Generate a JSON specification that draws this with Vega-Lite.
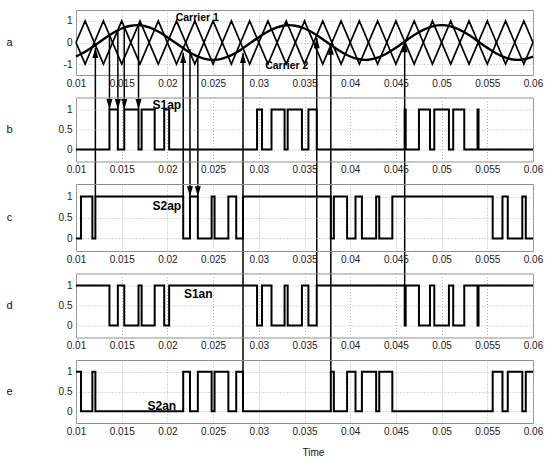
{
  "$schema": "https://vega.github.io/schema/vega-lite/v6.json",
  "padding": {"left": 5, "top": 9, "right": 2, "bottom": 2},
  "background": "white",
  "bounds": "flush",
  "spacing": 22.5,
  "config": {
    "view": {"stroke": "#8f8f8f", "strokeWidth": 1},
    "axis": {"grid": true, "gridColor": "#b5b5b5", "gridDash": [1, 2], "domain": false, "ticks": false, "labelFont": "Liberation Sans", "labelFontSize": 10, "labelColor": "#222", "titleFont": "Liberation Sans", "titleFontWeight": "normal", "titleColor": "#111", "labelPadding": 4},
    "axisX": {"labelFlush": false, "labelOverlap": false, "labelPadding": 3},
    "axisY": {"titleAngle": 0, "titleX": -67, "titleAlign": "center", "titleBaseline": "middle", "titleFontSize": 11, "labelOverlap": false},
    "text": {"font": "Liberation Sans", "fontWeight": "bold", "color": "black", "align": "left", "baseline": "middle"}
  },
  "datasets": {
    "sine": [
      {"t":0.010,"v":-0.647},{"t":0.011,"v":-0.429},{"t":0.012,"v":-0.150},{"t":0.013,"v":0.150},{"t":0.014,"v":0.429},{"t":0.015,"v":0.647},{"t":0.016,"v":0.775},{"t":0.017,"v":0.794},{"t":0.018,"v":0.701},{"t":0.019,"v":0.510},{"t":0.020,"v":0.247},{"t":0.021,"v":-0.050},{"t":0.022,"v":-0.341},{"t":0.023,"v":-0.583},{"t":0.024,"v":-0.744},{"t":0.025,"v":-0.800},{"t":0.026,"v":-0.744},{"t":0.027,"v":-0.583},{"t":0.028,"v":-0.341},{"t":0.029,"v":-0.050},{"t":0.030,"v":0.247},{"t":0.031,"v":0.510},{"t":0.032,"v":0.701},{"t":0.033,"v":0.794},{"t":0.034,"v":0.775},{"t":0.035,"v":0.647},{"t":0.036,"v":0.429},{"t":0.037,"v":0.150},{"t":0.038,"v":-0.150},{"t":0.039,"v":-0.429},{"t":0.040,"v":-0.647},{"t":0.041,"v":-0.775},{"t":0.042,"v":-0.794},{"t":0.043,"v":-0.701},{"t":0.044,"v":-0.510},{"t":0.045,"v":-0.247},{"t":0.046,"v":0.050},{"t":0.047,"v":0.341},{"t":0.048,"v":0.583},{"t":0.049,"v":0.744},{"t":0.050,"v":0.800},{"t":0.051,"v":0.744},{"t":0.052,"v":0.583},{"t":0.053,"v":0.341},{"t":0.054,"v":0.050},{"t":0.055,"v":-0.247},{"t":0.056,"v":-0.510},{"t":0.057,"v":-0.701},{"t":0.058,"v":-0.794},{"t":0.059,"v":-0.775},{"t":0.060,"v":-0.647}
    ],
    "carriers": [
      {"k":"1","t":0.010,"v":0},{"k":"1","t":0.011,"v":1},{"k":"1","t":0.013,"v":-1},{"k":"1","t":0.015,"v":1},{"k":"1","t":0.017,"v":-1},{"k":"1","t":0.019,"v":1},{"k":"1","t":0.021,"v":-1},{"k":"1","t":0.023,"v":1},{"k":"1","t":0.025,"v":-1},{"k":"1","t":0.027,"v":1},{"k":"1","t":0.029,"v":-1},{"k":"1","t":0.031,"v":1},{"k":"1","t":0.033,"v":-1},{"k":"1","t":0.035,"v":1},{"k":"1","t":0.037,"v":-1},{"k":"1","t":0.039,"v":1},{"k":"1","t":0.041,"v":-1},{"k":"1","t":0.043,"v":1},{"k":"1","t":0.045,"v":-1},{"k":"1","t":0.047,"v":1},{"k":"1","t":0.049,"v":-1},{"k":"1","t":0.051,"v":1},{"k":"1","t":0.053,"v":-1},{"k":"1","t":0.055,"v":1},{"k":"1","t":0.057,"v":-1},{"k":"1","t":0.059,"v":1},{"k":"1","t":0.060,"v":0},
      {"k":"2","t":0.010,"v":0},{"k":"2","t":0.011,"v":-1},{"k":"2","t":0.013,"v":1},{"k":"2","t":0.015,"v":-1},{"k":"2","t":0.017,"v":1},{"k":"2","t":0.019,"v":-1},{"k":"2","t":0.021,"v":1},{"k":"2","t":0.023,"v":-1},{"k":"2","t":0.025,"v":1},{"k":"2","t":0.027,"v":-1},{"k":"2","t":0.029,"v":1},{"k":"2","t":0.031,"v":-1},{"k":"2","t":0.033,"v":1},{"k":"2","t":0.035,"v":-1},{"k":"2","t":0.037,"v":1},{"k":"2","t":0.039,"v":-1},{"k":"2","t":0.041,"v":1},{"k":"2","t":0.043,"v":-1},{"k":"2","t":0.045,"v":1},{"k":"2","t":0.047,"v":-1},{"k":"2","t":0.049,"v":1},{"k":"2","t":0.051,"v":-1},{"k":"2","t":0.053,"v":1},{"k":"2","t":0.055,"v":-1},{"k":"2","t":0.057,"v":1},{"k":"2","t":0.059,"v":-1},{"k":"2","t":0.060,"v":0}
    ],
    "arrows": [
      {"t":0.01212,"v":-0.24,"v2":-7.111,"dir":"up"},
      {"t":0.02173,"v":-0.47,"v2":-7.111,"dir":"up"},
      {"t":0.02827,"v":-0.47,"v2":-15.199,"dir":"up"},
      {"t":0.03634,"v":0.22,"v2":-11.215,"dir":"up"},
      {"t":0.03788,"v":-0.08,"v2":-15.199,"dir":"up"},
      {"t":0.04596,"v":0.03,"v2":-11.215,"dir":"up"},
      {"t":0.01366,"v":0.3,"v2":-3.092,"dir":"down"},
      {"t":0.01458,"v":0.6,"v2":-3.092,"dir":"down"},
      {"t":0.01528,"v":0.72,"v2":-3.092,"dir":"down"},
      {"t":0.01684,"v":0.85,"v2":-3.092,"dir":"down"},
      {"t":0.02247,"v":-0.3,"v2":-7.111,"dir":"down"},
      {"t":0.02333,"v":-0.63,"v2":-7.111,"dir":"down"}
    ],
    "s1ap": [
      {"t":0.010,"v":0},{"t":0.01366,"v":1},{"t":0.01458,"v":0},{"t":0.01528,"v":1},{"t":0.01684,"v":0},{"t":0.01718,"v":1},{"t":0.01861,"v":0},{"t":0.01965,"v":1},{"t":0.02019,"v":0},{"t":0.02981,"v":1},{"t":0.03035,"v":0},{"t":0.03139,"v":1},{"t":0.03282,"v":0},{"t":0.03316,"v":1},{"t":0.03472,"v":0},{"t":0.03543,"v":1},{"t":0.03634,"v":0},{"t":0.04596,"v":1},{"t":0.04607,"v":0},{"t":0.04752,"v":1},{"t":0.04873,"v":0},{"t":0.0492,"v":1},{"t":0.0508,"v":0},{"t":0.05127,"v":1},{"t":0.05248,"v":0},{"t":0.05393,"v":1},{"t":0.05404,"v":0},{"t":0.060,"v":0}
    ],
    "s1an": [
      {"t":0.010,"v":1},{"t":0.01366,"v":0},{"t":0.01458,"v":1},{"t":0.01528,"v":0},{"t":0.01684,"v":1},{"t":0.01718,"v":0},{"t":0.01861,"v":1},{"t":0.01965,"v":0},{"t":0.02019,"v":1},{"t":0.02981,"v":0},{"t":0.03035,"v":1},{"t":0.03139,"v":0},{"t":0.03282,"v":1},{"t":0.03316,"v":0},{"t":0.03472,"v":1},{"t":0.03543,"v":0},{"t":0.03634,"v":1},{"t":0.04596,"v":0},{"t":0.04607,"v":1},{"t":0.04752,"v":0},{"t":0.04873,"v":1},{"t":0.0492,"v":0},{"t":0.0508,"v":1},{"t":0.05127,"v":0},{"t":0.05248,"v":1},{"t":0.05393,"v":0},{"t":0.05404,"v":1},{"t":0.060,"v":1}
    ],
    "s2ap": [
      {"t":0.010,"v":0},{"t":0.01055,"v":1},{"t":0.01179,"v":0},{"t":0.01212,"v":1},{"t":0.02173,"v":0},{"t":0.02247,"v":1},{"t":0.02333,"v":0},{"t":0.02484,"v":1},{"t":0.02516,"v":0},{"t":0.02667,"v":1},{"t":0.02753,"v":0},{"t":0.02827,"v":1},{"t":0.03788,"v":0},{"t":0.03821,"v":1},{"t":0.03966,"v":0},{"t":0.04058,"v":1},{"t":0.04128,"v":0},{"t":0.04284,"v":1},{"t":0.04318,"v":0},{"t":0.04461,"v":1},{"t":0.05559,"v":0},{"t":0.05666,"v":1},{"t":0.05724,"v":0},{"t":0.05883,"v":1},{"t":0.05921,"v":0},{"t":0.060,"v":0}
    ],
    "s2an": [
      {"t":0.010,"v":1},{"t":0.01055,"v":0},{"t":0.01179,"v":1},{"t":0.01212,"v":0},{"t":0.02173,"v":1},{"t":0.02247,"v":0},{"t":0.02333,"v":1},{"t":0.02484,"v":0},{"t":0.02516,"v":1},{"t":0.02667,"v":0},{"t":0.02753,"v":1},{"t":0.02827,"v":0},{"t":0.03788,"v":1},{"t":0.03821,"v":0},{"t":0.03966,"v":1},{"t":0.04058,"v":0},{"t":0.04128,"v":1},{"t":0.04284,"v":0},{"t":0.04318,"v":1},{"t":0.04461,"v":0},{"t":0.05559,"v":1},{"t":0.05666,"v":0},{"t":0.05724,"v":1},{"t":0.05883,"v":0},{"t":0.05921,"v":1},{"t":0.060,"v":1}
    ]
  },
  "vconcat": [
    {
      "width": 457, "height": 65,
      "encoding": {
        "x": {"field": "t", "type": "quantitative", "scale": {"domain": [0.01, 0.06], "nice": false, "zero": false}, "axis": {"values": [0.01,0.015,0.02,0.025,0.03,0.035,0.04,0.045,0.05,0.055,0.06], "labelExpr": "'' + datum.value", "title": null}},
        "y": {"field": "v", "type": "quantitative", "scale": {"domain": [-1.5, 1.5], "nice": false, "zero": false}, "axis": {"values": [-1, 0, 1], "labelExpr": "'' + datum.value", "title": "a", "titleY": 32.5}}
      },
      "layer": [
        {"data": {"name": "carriers"}, "mark": {"type": "line", "color": "black", "strokeWidth": 1.7}, "encoding": {"detail": {"field": "k"}}},
        {"data": {"name": "sine"}, "mark": {"type": "line", "color": "black", "strokeWidth": 2.4, "interpolate": "natural"}},
        {"data": {"name": "arrows"}, "mark": {"type": "rule", "color": "black", "strokeWidth": 1.5, "clip": false}, "encoding": {"y2": {"field": "v2"}}},
        {"data": {"name": "arrows"}, "transform": [{"filter": "datum.dir == 'up'"}], "mark": {"type": "point", "shape": "M0,0L-0.75,2.6L0.75,2.6Z", "filled": true, "color": "black", "opacity": 1, "size": 64, "clip": false}},
        {"data": {"name": "arrows"}, "transform": [{"filter": "datum.dir == 'down'"}], "mark": {"type": "point", "shape": "M0,0L-0.75,-2.6L0.75,-2.6Z", "filled": true, "color": "black", "opacity": 1, "size": 64, "clip": false}, "encoding": {"y": {"field": "v2", "type": "quantitative"}}},
        {"data": {"values": [{"t": 0.0209, "v": 1.12, "label": "Carrier 1"}, {"t": 0.0307, "v": -1.08, "label": "Carrier 2"}]}, "mark": {"type": "text", "fontSize": 10.5}, "encoding": {"text": {"field": "label"}}}
      ]
    },
    {
      "width": 457, "height": 64,
      "encoding": {
        "x": {"field": "t", "type": "quantitative", "scale": {"domain": [0.01, 0.06], "nice": false, "zero": false}, "axis": {"values": [0.01,0.015,0.02,0.025,0.03,0.035,0.04,0.045,0.05,0.055,0.06], "labelExpr": "'' + datum.value", "title": null}},
        "y": {"field": "v", "type": "quantitative", "scale": {"domain": [-0.3, 1.3], "nice": false, "zero": false}, "axis": {"values": [0, 0.5, 1], "labelExpr": "'' + datum.value", "title": "b", "titleY": 32}}
      },
      "layer": [
        {"data": {"name": "s1ap"}, "mark": {"type": "line", "interpolate": "step-after", "color": "black", "strokeWidth": 2}},
        {"data": {"values": [{"t": 0.01837, "v": 1.11, "label": "S1ap"}]}, "mark": {"type": "text", "fontSize": 12}, "encoding": {"text": {"field": "label"}}}
      ]
    },
    {
      "width": 457, "height": 67,
      "encoding": {
        "x": {"field": "t", "type": "quantitative", "scale": {"domain": [0.01, 0.06], "nice": false, "zero": false}, "axis": {"values": [0.01,0.015,0.02,0.025,0.03,0.035,0.04,0.045,0.05,0.055,0.06], "labelExpr": "'' + datum.value", "title": null}},
        "y": {"field": "v", "type": "quantitative", "scale": {"domain": [-0.3, 1.3], "nice": false, "zero": false}, "axis": {"values": [0, 0.5, 1], "labelExpr": "'' + datum.value", "title": "c", "titleY": 33.5}}
      },
      "layer": [
        {"data": {"name": "s2ap"}, "mark": {"type": "line", "interpolate": "step-after", "color": "black", "strokeWidth": 2}},
        {"data": {"values": [{"t": 0.01837, "v": 0.78, "label": "S2ap"}]}, "mark": {"type": "text", "fontSize": 12}, "encoding": {"text": {"field": "label"}}}
      ]
    },
    {
      "width": 457, "height": 64,
      "encoding": {
        "x": {"field": "t", "type": "quantitative", "scale": {"domain": [0.01, 0.06], "nice": false, "zero": false}, "axis": {"values": [0.01,0.015,0.02,0.025,0.03,0.035,0.04,0.045,0.05,0.055,0.06], "labelExpr": "'' + datum.value", "title": null}},
        "y": {"field": "v", "type": "quantitative", "scale": {"domain": [-0.3, 1.3], "nice": false, "zero": false}, "axis": {"values": [0, 0.5, 1], "labelExpr": "'' + datum.value", "title": "d", "titleY": 32}}
      },
      "layer": [
        {"data": {"name": "s1an"}, "mark": {"type": "line", "interpolate": "step-after", "color": "black", "strokeWidth": 2}},
        {"data": {"values": [{"t": 0.02181, "v": 0.78, "label": "S1an"}]}, "mark": {"type": "text", "fontSize": 12}, "encoding": {"text": {"field": "label"}}}
      ]
    },
    {
      "width": 457, "height": 63,
      "encoding": {
        "x": {"field": "t", "type": "quantitative", "scale": {"domain": [0.01, 0.06], "nice": false, "zero": false}, "axis": {"values": [0.01,0.015,0.02,0.025,0.03,0.035,0.04,0.045,0.05,0.055,0.06], "labelExpr": "'' + datum.value", "title": "Time", "titleFontSize": 10, "titlePadding": 11, "titleX": 237}},
        "y": {"field": "v", "type": "quantitative", "scale": {"domain": [-0.3, 1.3], "nice": false, "zero": false}, "axis": {"values": [0, 0.5, 1], "labelExpr": "'' + datum.value", "title": "e", "titleY": 31.5}}
      },
      "layer": [
        {"data": {"name": "s2an"}, "mark": {"type": "line", "interpolate": "step-after", "color": "black", "strokeWidth": 2}},
        {"data": {"values": [{"t": 0.01782, "v": 0.144, "label": "S2an"}]}, "mark": {"type": "text", "fontSize": 12}, "encoding": {"text": {"field": "label"}}}
      ]
    }
  ]
}
